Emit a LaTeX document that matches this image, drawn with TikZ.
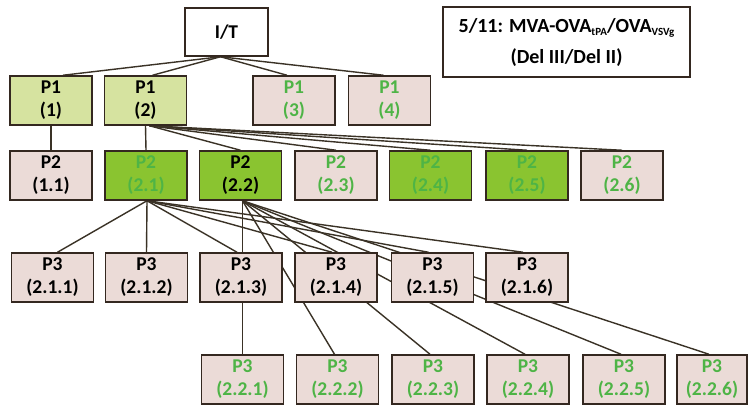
\documentclass[tikz,border=0pt]{standalone}
\usepackage{fontspec}
\setmainfont{Carlito}
\usetikzlibrary{backgrounds}
\definecolor{lgreen}{RGB}{214,227,160}
\definecolor{bgreen}{RGB}{138,196,48}
\definecolor{pinkf}{RGB}{235,219,215}
\definecolor{gtext}{RGB}{78,180,70}
\definecolor{edgec}{RGB}{58,50,38}
\definecolor{boxc}{RGB}{52,40,32}
\newcommand{\subtx}[1]{\raisebox{-3.5pt}{\fontsize{11}{11}\selectfont #1}}
\begin{document}
\begin{tikzpicture}[x=1pt,y=-1pt,
  box/.style={draw=boxc, line width=1.5pt, minimum width=82pt, minimum height=49pt,
    inner sep=0pt, align=center, font=\fontsize{19.5}{23}\selectfont\bfseries},
  pk/.style={box, fill=pinkf},
  lg/.style={box, fill=lgreen},
  bg/.style={box, fill=bgreen},
  gt/.style={text=gtext},
  conn/.style={draw=edgec, line width=1.4pt}]
\useasboundingbox (0,0) rectangle (750,406);
\begin{scope}[on background layer]
  \fill[white] (0,0) rectangle (750,406);
\end{scope}

% root and title
\node[box, fill=white, minimum width=83pt, minimum height=48pt] (it) at (226.5,32) {I/T};
\node[draw=boxc, line width=1.3pt, fill=white, minimum width=247pt, minimum height=70pt,
  inner sep=0pt, align=center, font=\fontsize{20}{31}\selectfont\bfseries] (title) at (566.5,42)
  {5/11: MVA-OVA\subtx{tPA}/OVA\subtx{VSVg}\\(Del III/Del II)};

% P1 row
\node[lg] (p11) at (51,100.5) {P1\\(1)};
\node[lg] (p12) at (145.5,100.5) {P1\\(2)};
\node[pk, gt] (p13) at (294,100.5) {P1\\(3)};
\node[pk, gt] (p14) at (389.5,100.5) {P1\\(4)};

% P2 row
\node[pk] (q11) at (51,175.5) {P2\\(1.1)};
\node[bg, gt] (q21) at (146,175.5) {P2\\(2.1)};
\node[bg] (q22) at (240.5,175.5) {P2\\(2.2)};
\node[pk, gt] (q23) at (336,175.5) {P2\\(2.3)};
\node[bg, gt] (q24) at (430.5,175.5) {P2\\(2.4)};
\node[bg, gt] (q25) at (527,175.5) {P2\\(2.5)};
\node[pk, gt] (q26) at (622,175.5) {P2\\(2.6)};

% P3 row 1
\node[pk] (r211) at (52.5,277.5) {P3\\(2.1.1)};
\node[pk] (r212) at (146.5,277.5) {P3\\(2.1.2)};
\node[pk] (r213) at (241,277.5) {P3\\(2.1.3)};
\node[pk] (r214) at (336,277.5) {P3\\(2.1.4)};
\node[pk] (r215) at (432.5,277.5) {P3\\(2.1.5)};
\node[pk] (r216) at (527,277.5) {P3\\(2.1.6)};

% P3 row 2
\node[pk, gt] (r221) at (242.5,379.5) {P3\\(2.2.1)};
\node[pk, gt] (r222) at (337.5,379.5) {P3\\(2.2.2)};
\node[pk, gt] (r223) at (433,379.5) {P3\\(2.2.3)};
\node[pk, gt] (r224) at (528,379.5) {P3\\(2.2.4)};
\node[pk, gt] (r225) at (624,379.5) {P3\\(2.2.5)};
\node[pk, gt, minimum width=70pt] (r226) at (712,379.5) {P3\\(2.2.6)};

\begin{scope}[on background layer]
  % root to P1
  \draw[conn] ([xshift=-6pt]it.south) -- ([xshift=12pt]p11.north);
  \draw[conn] ([xshift=-6pt]it.south) -- ([xshift=7pt]p12.north);
  \draw[conn] ([xshift=-6pt]it.south) -- ([xshift=-7pt]p13.north);
  \draw[conn] ([xshift=-6pt]it.south) -- ([xshift=-6pt]p14.north);
  % P1 to P2
  \draw[conn] (p11.south) -- (q11.north);
  \draw[conn] (p12.south) -- (q21.north);
  \foreach \t in {q22,q23,q24,q25,q26}
    \draw[conn] ([xshift=4pt]p12.south) -- (\t.north);
  % P2(2.1) to P3 (2.1.x)
  \draw[conn] ([xshift=1pt]q21.south) -- ([xshift=5pt]r211.north);
  \draw[conn] ([xshift=1pt]q21.south) -- (r212.north);
  \foreach \t in {r213,r214,r215,r216}
    \draw[conn] ([xshift=1pt]q21.south) -- ([xshift=-4pt]\t.north);
  % P2(2.2) to P3 (2.2.x)
  \draw[conn] ([xshift=2pt]q22.south) -- (r221.north);
  \foreach \t in {r222,r223,r224,r225,r226}
    \draw[conn] ([xshift=2pt]q22.south) -- ([xshift=-3pt]\t.north);
\end{scope}
\end{tikzpicture}
\end{document}
